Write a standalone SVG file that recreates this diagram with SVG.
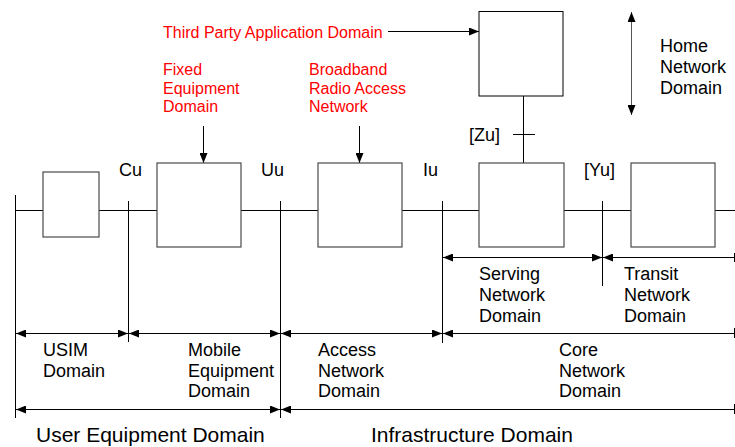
<svg xmlns="http://www.w3.org/2000/svg" width="735" height="447" viewBox="0 0 735 447">
<style>
text{font-family:"Liberation Sans",Arial,sans-serif;font-size:18px;fill:#000}
.red{fill:#ff0000;font-size:16px}
.big{font-size:21px}
.box{fill:#fff;stroke:#4a4a4a;stroke-width:1.2}
.ln{stroke:#000;stroke-width:1;fill:none}
.ar{stroke:#000;stroke-width:1;fill:none;marker-start:url(#ah);marker-end:url(#ah)}
.arR{stroke:#000;stroke-width:1;fill:none;marker-start:url(#ah)}
</style>
<defs>
<marker id="ah" viewBox="0 0 10 8" refX="10" refY="4" markerWidth="10" markerHeight="8" markerUnits="userSpaceOnUse" orient="auto-start-reverse"><path d="M0,0 L10,4 L0,8 z" fill="#000"/></marker>
<marker id="ah2" viewBox="0 0 10 8" refX="10" refY="4" markerWidth="10" markerHeight="8" markerUnits="userSpaceOnUse" orient="auto"><path d="M0,0 L10,4 L0,8 z" fill="#000"/></marker>
</defs>
<g id="connectors">
<line class="ln" x1="15" y1="210.5" x2="735" y2="210.5"/>
<line class="ln" x1="15.5" y1="195" x2="15.5" y2="418"/>
<line class="ln" x1="128.5" y1="201" x2="128.5" y2="342"/>
<line class="ln" x1="280.5" y1="201" x2="280.5" y2="418"/>
<line class="ln" x1="442.5" y1="201" x2="442.5" y2="343"/>
<line class="ln" x1="602.5" y1="201" x2="602.5" y2="286"/>
<line class="ln" x1="734.5" y1="253" x2="734.5" y2="262"/>
<line class="ln" x1="734.5" y1="328" x2="734.5" y2="338"/>
<line class="ln" x1="734.5" y1="404" x2="734.5" y2="414"/>
<line class="ln" x1="523.5" y1="96" x2="523.5" y2="163"/>
<line class="ln" x1="513" y1="134.5" x2="535" y2="134.5"/>
<line class="ln" x1="388" y1="31.5" x2="479" y2="31.5" marker-end="url(#ah2)"/>
<line class="ln" x1="203.5" y1="126" x2="203.5" y2="163" marker-end="url(#ah2)"/>
<line class="ln" x1="359.5" y1="126" x2="359.5" y2="163" marker-end="url(#ah2)"/>
<line x1="631.5" y1="12" x2="631.5" y2="115" stroke="#555" stroke-width="1" marker-start="url(#ah)" marker-end="url(#ah)"/>
<line class="ar" x1="443" y1="257.5" x2="602" y2="257.5"/>
<line class="arR" x1="603" y1="257.5" x2="734" y2="257.5"/>
<line class="ar" x1="16" y1="333.5" x2="128" y2="333.5"/>
<line class="ar" x1="129" y1="333.5" x2="280" y2="333.5"/>
<line class="ar" x1="281" y1="333.5" x2="442" y2="333.5"/>
<line class="arR" x1="443" y1="333.5" x2="734" y2="333.5"/>
<line class="ar" x1="16" y1="409.5" x2="280" y2="409.5"/>
<line class="arR" x1="281" y1="409.5" x2="734" y2="409.5"/>
</g>
<g id="usim"><rect class="box" x="43" y="172" width="56" height="65"/></g>
<g id="mobile-equipment"><rect class="box" x="157" y="163" width="84" height="84"/></g>
<g id="access-network"><rect class="box" x="318" y="163" width="84" height="84"/></g>
<g id="serving-network"><rect class="box" x="479" y="163" width="85" height="84"/></g>
<g id="transit-network"><rect class="box" x="631" y="163" width="84" height="84"/></g>
<g id="home-network"><rect x="479" y="11.5" width="84" height="84.5" fill="#fff" stroke="#000" stroke-width="1"/></g>
<g id="labels">
<text class="red" x="163" y="38">Third Party Application Domain</text>
<text class="red" x="163" y="75">Fixed</text>
<text class="red" x="163" y="93.5">Equipment</text>
<text class="red" x="163" y="112">Domain</text>
<text class="red" x="309" y="75">Broadband</text>
<text class="red" x="309" y="93.5">Radio Access</text>
<text class="red" x="309" y="112">Network</text>
<text x="660" y="52">Home</text>
<text x="660" y="73">Network</text>
<text x="660" y="94">Domain</text>
<text x="469" y="141">[Zu]</text>
<text x="119" y="176">Cu</text>
<text x="261" y="176">Uu</text>
<text x="423" y="176">Iu</text>
<text x="584" y="176">[Yu]</text>
<text x="479" y="280">Serving</text>
<text x="479" y="301">Network</text>
<text x="479" y="322">Domain</text>
<text x="624" y="280">Transit</text>
<text x="624" y="301">Network</text>
<text x="624" y="322">Domain</text>
<text x="43" y="356">USIM</text>
<text x="43" y="377">Domain</text>
<text x="188" y="356">Mobile</text>
<text x="188" y="377">Equipment</text>
<text x="188" y="397">Domain</text>
<text x="318" y="356">Access</text>
<text x="318" y="377">Network</text>
<text x="318" y="397">Domain</text>
<text x="559" y="356">Core</text>
<text x="559" y="377">Network</text>
<text x="559" y="397">Domain</text>
<text class="big" x="36" y="442">User Equipment Domain</text>
<text class="big" x="371" y="442">Infrastructure Domain</text>
</g>
</svg>
